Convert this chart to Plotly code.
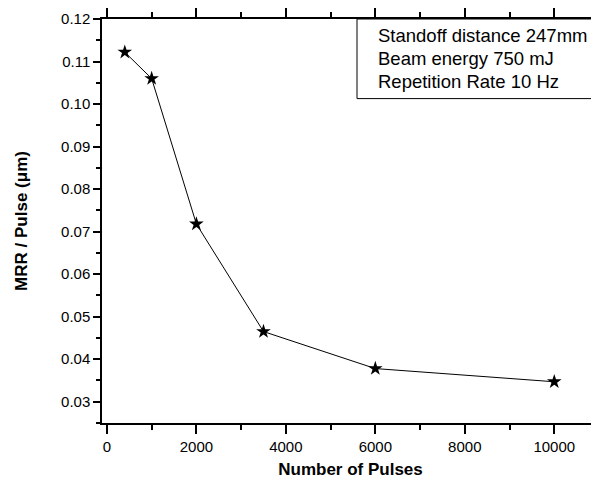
import plotly.graph_objects as go

pulses = [400, 1000, 2000, 3500, 6000, 10000]
mrr = [0.1122, 0.1060, 0.0718, 0.0465, 0.0378, 0.0347]
info_lines = ["Standoff distance 247mm", "Beam energy 750 mJ", "Repetition Rate 10 Hz"]

FONT = "Liberation Sans, Arial, sans-serif"

fig = go.Figure()
fig.add_trace(go.Scatter(
    x=pulses, y=mrr, mode="lines+markers",
    line=dict(color="black", width=1),
    marker=dict(symbol="star", size=11, color="black"),
    showlegend=False,
))

OFF = 8  # browser default body margin
W, H = 599 - OFF, 479 - OFF
L, R, T, B = 102 - OFF, 0, 17 - OFF, 56
ph = H - T - B
pw = W - L - R

def py(p):
    # p: page pixel y
    return (H - B - (p - OFF)) / ph

def px(p):
    return (p - OFF - L) / pw

fig.add_shape(type="rect", xref="paper", yref="paper",
              x0=px(357), x1=1.05, y0=py(97), y1=1.0,
              line=dict(color="black", width=1), fillcolor="rgba(0,0,0,0)")

for txt, ypix in zip(info_lines, [34, 57, 80]):
    fig.add_annotation(text=txt, xref="paper", yref="paper",
                       x=px(376), y=py(ypix), xanchor="left", yanchor="middle",
                       showarrow=False, font=dict(family=FONT, size=18.5, color="black"))

fig.update_layout(
    width=W, height=H,
    margin=dict(l=L, r=R, t=T, b=B),
    paper_bgcolor="white", plot_bgcolor="white",
    font=dict(family=FONT, color="black"),
    xaxis=dict(
        range=[-110, 11000],
        tickvals=[0, 2000, 4000, 6000, 8000, 10000],
        ticktext=["0", "2000", "4000", "6000", "8000", "10000"],
        ticks="outside", ticklen=9, tickwidth=1.5, tickcolor="black",
        minor=dict(dtick=1000, tick0=0, ticks="outside", ticklen=5, tickwidth=1.5, tickcolor="black"),
        showline=True, linecolor="black", linewidth=1.5, mirror="ticks",
        showgrid=False, zeroline=False,
        tickfont=dict(size=15, family=FONT),
        title=dict(text="<b>Number of Pulses</b>", font=dict(size=17, family=FONT), standoff=12),
    ),
    yaxis=dict(
        range=[0.025, 0.12],
        tickvals=[0.03, 0.04, 0.05, 0.06, 0.07, 0.08, 0.09, 0.10, 0.11, 0.12],
        ticktext=["0.03", "0.04", "0.05", "0.06", "0.07", "0.08", "0.09", "0.10", "0.11", "0.12"],
        ticks="outside", ticklen=7, tickwidth=1.5, tickcolor="black",
        minor=dict(dtick=0.005, tick0=0.025, ticks="outside", ticklen=4, tickwidth=1.5, tickcolor="black"),
        showline=True, linecolor="black", linewidth=1.5, mirror=False,
        showgrid=False, zeroline=False,
        tickfont=dict(size=15, family=FONT),
        title=dict(text="<b>MRR / Pulse (μm)</b>", font=dict(size=17, family=FONT), standoff=29),
    ),
)

fig.write_html("out.html")
